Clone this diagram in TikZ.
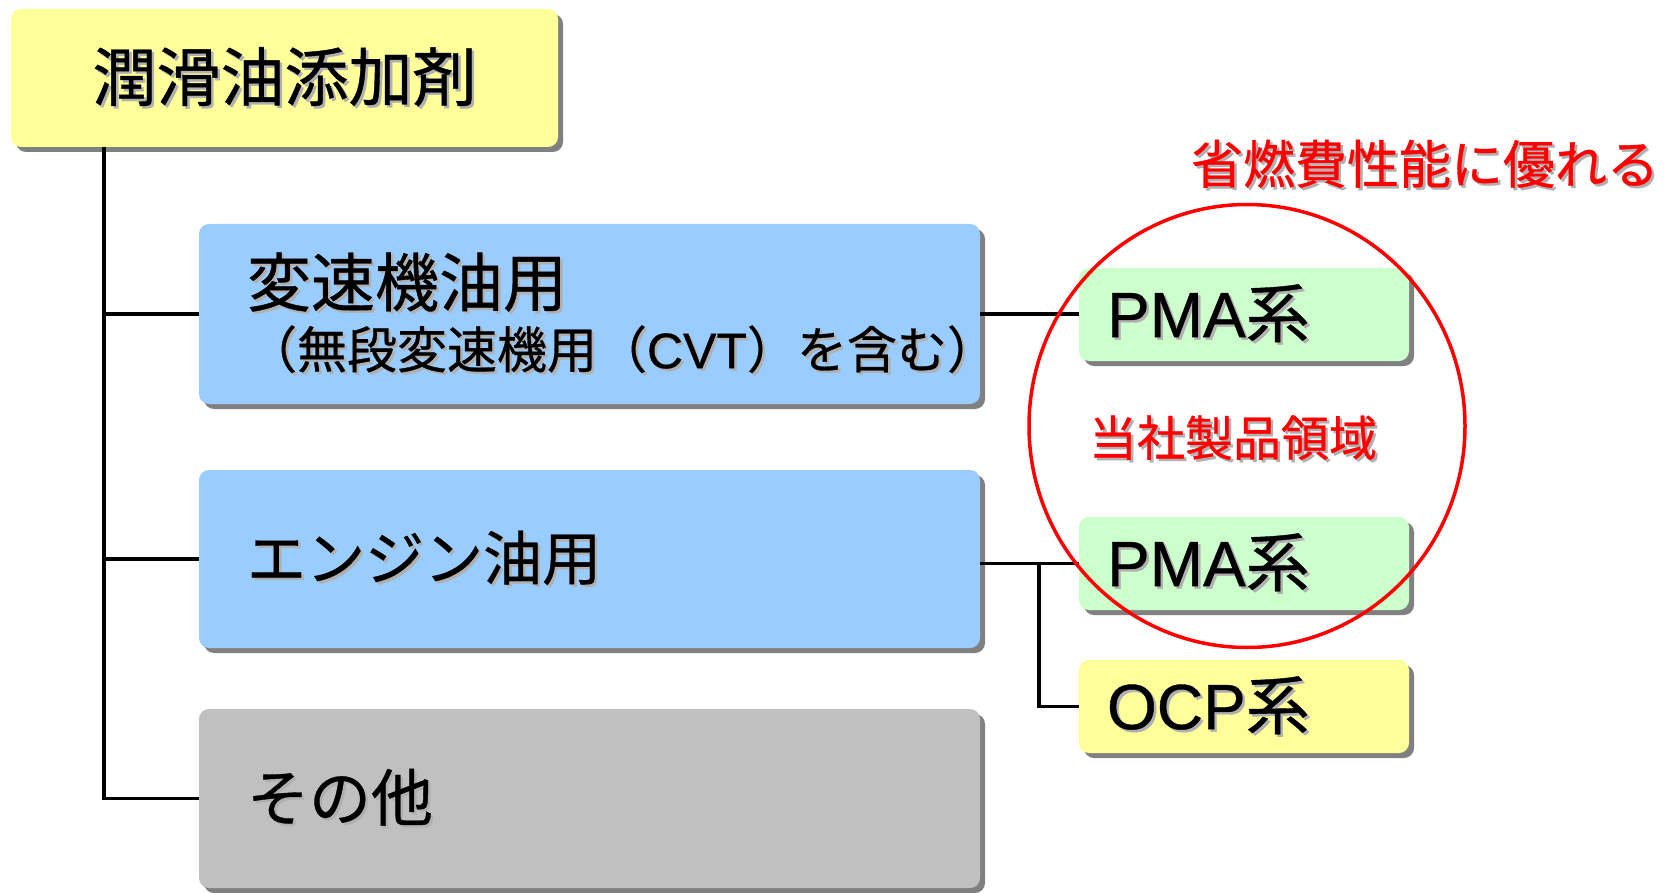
\documentclass[tikz,border=0pt]{standalone}
\usepackage{fontspec}
\setmainfont{Noto Sans CJK JP}[FakeBold=0.6]
\newfontfamily\lat{Liberation Sans}[FakeBold=0.6]
\usetikzlibrary{shadows,shapes.geometric}
\definecolor{cyellow}{HTML}{FFFF99}
\definecolor{cblue}{HTML}{99CCFF}
\definecolor{cgray}{HTML}{C0C0C0}
\definecolor{cgreen}{HTML}{CCFFCC}
\definecolor{cred}{HTML}{FF0000}
\definecolor{cshadow}{HTML}{808080}
\definecolor{ctshadow}{HTML}{B0B0B0}
\newcommand\shtxt[1]{\leavevmode\rlap{\kern2.5pt\raisebox{-2.5pt}{\textcolor{ctshadow}{#1}}}#1}
\begin{document}
\begin{tikzpicture}[x=1pt,y=-1pt,
  box/.style={rectangle, rounded corners=10pt, draw=none,
    drop shadow={shadow xshift=5pt, shadow yshift=-5pt, fill=cshadow, opacity=1},
    inner ysep=0pt},
  catbox/.style={box, fill=cblue, minimum width=781pt, minimum height=180pt,
    inner xsep=48pt, text width=685pt, align=left, font=\fontsize{62}{66}\selectfont},
  subbox/.style={box, fill=cgreen, minimum width=330pt, minimum height=93pt,
    inner xsep=28pt, text width=274pt, align=left, font=\fontsize{64}{66}\selectfont},
  link/.style={line width=3.5pt, black},
  redtxt/.style={text=cred, inner sep=0pt}]
\useasboundingbox (0,0) rectangle (1667,893);

% root
\node[box, fill=cyellow, minimum width=547pt, minimum height=138pt,
  font=\fontsize{64}{66}\selectfont] (root) at (284.5,78) {\shtxt{潤滑油添加剤}};

% categories
\node[catbox, font=\fontsize{64}{64}\selectfont] (b1) at (589.5,314) {\shtxt{変速機油用}\\[-2pt]{\fontsize{50}{52}\selectfont\shtxt{（無段変速機用（{\lat CVT}）を含む）}}};
\node[catbox, minimum height=178pt, font=\fontsize{59}{62}\selectfont] (b2) at (589.5,559) {\shtxt{エンジン油用}};
\node[catbox, fill=cgray, minimum height=179pt] (b3) at (589.5,798.5) {\shtxt{その他}};

% sub types
\node[subbox] (p1) at (1244,314.5) {\shtxt{{\lat PMA}系}};
\node[subbox] (p2) at (1244,563.5) {\shtxt{{\lat PMA}系}};
\node[subbox, fill=cyellow] (ocp) at (1244,706.5) {\shtxt{{\lat OCP}系}};

% connectors
\coordinate (trunk) at (104,147);
\coordinate (fork) at (1039,563);
\draw[link] (trunk) |- (b3.west);
\draw[link] (trunk |- b1.west) -- (b1.west);
\draw[link] (trunk |- b2.west) -- (b2.west);
\draw[link] (b1.east) -- (b1.east -| p1.west);
\draw[link] (p2.west -| b2.east) -- (p2.west);
\draw[link] (fork) |- (ocp.west);

% red region
\node[draw=cred, line width=3.5pt, ellipse, minimum width=436pt, minimum height=443pt, inner sep=0pt] (region) at (1247,426) {};
\node[redtxt, font=\fontsize{48}{50}\selectfont] (regtext) at (1233,439) {\shtxt{当社製品領域}};
\node[redtxt, font=\fontsize{52}{54}\selectfont] (title) at (1425,165) {\shtxt{省燃費性能に優れる}};
\end{tikzpicture}
\end{document}
